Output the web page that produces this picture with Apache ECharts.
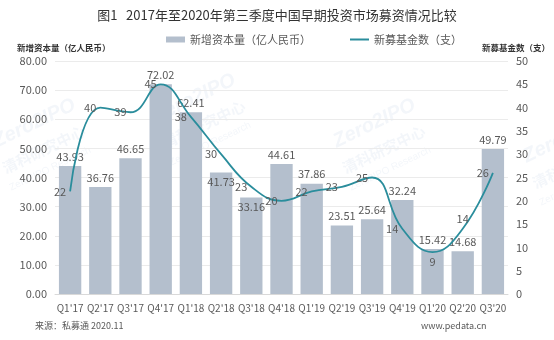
<!DOCTYPE html>
<html><head><meta charset="utf-8">
<script src="https://cdn.jsdelivr.net/npm/echarts@6/dist/echarts.min.js"></script>
<style>html,body{margin:0;padding:0;background:#fff}#c{width:554px;height:340px}</style>
</head><body><div id="c"></div>
<script>
const categories = ["Q1'17","Q2'17","Q3'17","Q4'17","Q1'18","Q2'18","Q3'18","Q4'18","Q1'19","Q2'19","Q3'19","Q4'19","Q1'20","Q2'20","Q3'20"];
const capital = [43.93,36.76,46.65,72.02,62.41,41.73,33.16,44.61,37.86,23.51,25.64,32.24,15.42,14.68,49.79];
const funds = [22,40,39,45,38,30,23,20,22,23,25,14,9,14,26];
const leftTicks = [0,10,20,30,40,50,60,70,80];
const rightTicks = [0,5,10,15,20,25,30,35,40,45,50];

const FONT = 'Noto Sans CJK SC';
const barLabelPos = {5:'insideTop',6:'insideTop'};
const lineLabelPos = {12:'bottom',13:'top'};

const chart = echarts.init(document.getElementById('c'), null, {renderer:'canvas'});
const WM = 'rgba(120,150,200,0.09)';
const wm = (x,y)=>[
  {type:'text',left:x,top:y,rotation:0.45,style:{text:'Zero2IPO',font:'bold italic 20px sans-serif',fill:WM}},
  {type:'text',left:x+10,top:y+28,rotation:0.45,style:{text:'清科研究中心',font:'bold 15px "Noto Sans CJK SC"',fill:WM}},
  {type:'text',left:x+18,top:y+50,rotation:0.45,style:{text:'Zero2IPO Research',font:'10px sans-serif',fill:WM}}
];
chart.setOption({
  animation:false,
  textStyle:{fontFamily:FONT},
  title:{text:'图1   2017年至2020年第三季度中国早期投资市场募资情况比较',left:'center',top:4,
    textStyle:{fontSize:13,fontWeight:'normal',color:'#333',fontFamily:FONT}},
  legend:{top:29,left:161,itemGap:38,itemWidth:19,itemHeight:6,
    textStyle:{fontSize:11,color:'#595959',fontFamily:FONT},
    data:[{name:'新增资本量（亿人民币）',icon:'rect'},{name:'新募基金数（支）'}]},
  grid:{left:55,right:46,top:61,bottom:46},
  xAxis:{type:'category',data:categories,
    axisLine:{lineStyle:{color:'#d9d9d9'}},axisTick:{show:false},
    axisLabel:{color:'#595959',fontSize:10,margin:9,interval:0}},
  yAxis:[
    {type:'value',min:0,max:80,interval:10,name:'新增资本量（亿人民币）',nameLocation:'end',
     nameGap:9,nameTextStyle:{fontSize:8.5,fontWeight:'bold',color:'#333',align:'left',padding:[0,0,0,-38]},
     axisLabel:{color:'#595959',fontSize:11,formatter:v=>v.toFixed(2)},
     splitLine:{lineStyle:{color:'#ebebeb'}},axisLine:{show:false},axisTick:{show:false}},
    {type:'value',min:0,max:50,interval:5,name:'新募基金数（支）',nameLocation:'end',
     nameGap:9,nameTextStyle:{fontSize:8.5,fontWeight:'bold',color:'#333',align:'right',padding:[0,-42,0,0]},
     axisLabel:{color:'#595959',fontSize:11},
     splitLine:{show:false},axisLine:{show:false},axisTick:{show:false}}
  ],
  series:[
    {name:'新增资本量（亿人民币）',type:'bar',barWidth:'74%',yAxisIndex:0,
     itemStyle:{color:'#b4bfcd'},
     data:capital.map((v,i)=>({value:v,label:{position:barLabelPos[i]||'top'}})),
     label:{show:true,color:'#595959',fontSize:11,distance:4,formatter:p=>p.value.toFixed(2)},z:2},
    {name:'新募基金数（支）',type:'line',yAxisIndex:1,smooth:0.45,symbol:'circle',symbolSize:2,showSymbol:true,
     lineStyle:{color:'#2a8d9c',width:1.8},itemStyle:{color:'rgba(0,0,0,0)',borderWidth:0},
     data:funds.map((v,i)=>({value:v,label:{position:lineLabelPos[i]||'left'}})),
     label:{show:true,color:'#595959',fontSize:11,distance:3},z:3}
  ],
  graphic:[
    ...wm(-10,95),...wm(150,70),...wm(330,95),...wm(520,110),
    {type:'text',left:35,top:321,style:{text:'来源：私募通 2020.11',font:'9px "Noto Sans CJK SC"',fill:'#595959'}},
    {type:'text',left:421,top:321,style:{text:'www.pedata.cn',font:'9px "Noto Sans CJK SC"',fill:'#595959'}}
  ]
});
</script></body></html>
